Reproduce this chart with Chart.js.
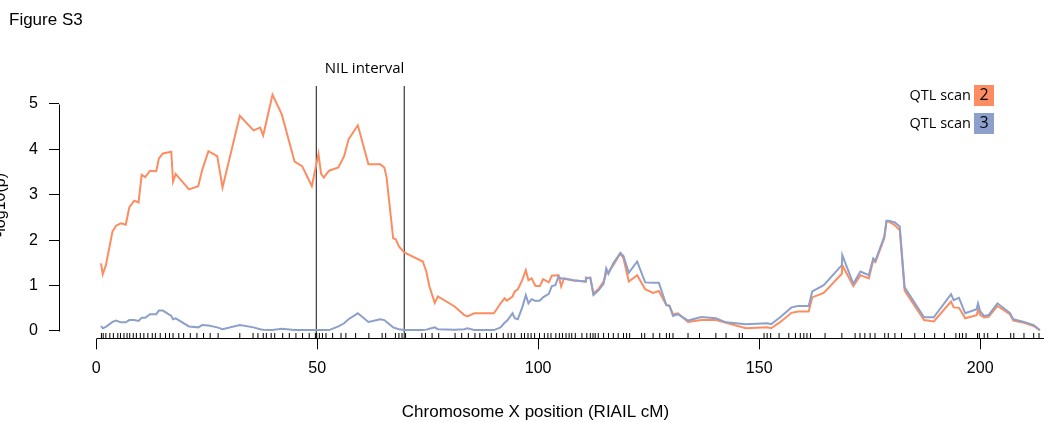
<!DOCTYPE html>
<html><head><meta charset="utf-8">
<script src="https://cdn.jsdelivr.net/npm/chart.js@4/dist/chart.umd.min.js"></script>
<style>html,body{margin:0;padding:0;background:#fff;overflow:hidden}#wrap{width:1049px;height:422px;position:relative}</style>
</head><body><div id="wrap"><canvas id="c" width="1049" height="422"></canvas></div>
<script>
// ---- data ----
const positions = [1.1,1.5,2.2,3.7,4.5,5.6,6.7,7.5,8.6,9.6,10.3,11.1,12.2,13.6,14.2,15.1,17.0,17.4,18.0,21.0,23.1,24.0,25.4,27.4,28.6,32.5,35.6,37.1,37.8,39.9,42.0,44.9,46.6,48.1,48.8,50.3,50.9,51.5,52.7,54.8,56.1,57.1,59.2,61.6,64.3,65.2,65.7,67.2,67.8,68.5,69.7,73.9,74.7,75.4,76.6,77.3,81.1,83.3,84.0,85.5,90.0,91.5,92.4,92.9,94.2,94.7,95.4,96.4,97.2,97.8,98.5,99.4,100.4,101.1,102.4,103.1,103.9,104.6,105.2,105.8,108.0,110.6,110.8,111.8,112.5,113.6,114.8,115.4,115.9,117.0,118.6,119.3,120.5,122.4,124.2,126.0,127.3,129.0,129.7,130.5,131.6,133.9,136.9,140.2,142.5,147.0,151.8,152.7,154.8,157.3,158.8,161.2,162.0,164.6,168.7,168.8,171.3,172.9,174.8,175.8,176.3,178.3,178.8,179.3,180.7,181.8,182.9,187.3,189.5,193.4,194.0,195.2,196.6,199.2,199.5,200.0,200.9,201.9,203.9,206.7,207.5,209.9,212.1,213.5];
const scan2 = [1.49,1.25,1.45,2.19,2.32,2.37,2.34,2.72,2.87,2.83,3.44,3.39,3.53,3.52,3.80,3.91,3.95,3.29,3.46,3.12,3.19,3.55,3.96,3.85,3.16,4.74,4.42,4.48,4.31,5.20,4.77,3.73,3.63,3.33,3.19,3.90,3.46,3.38,3.53,3.60,3.85,4.22,4.53,3.67,3.67,3.60,3.39,2.04,2.02,1.86,1.73,1.53,1.31,0.98,0.62,0.76,0.54,0.35,0.32,0.39,0.39,0.61,0.72,0.67,0.76,0.87,0.92,1.12,1.34,1.12,1.16,0.99,0.99,1.14,1.07,1.22,1.22,1.23,0.98,1.15,1.11,1.09,1.18,1.16,0.83,0.92,1.09,1.27,1.30,1.45,1.71,1.60,1.09,1.23,0.92,0.84,0.88,0.57,0.55,0.37,0.39,0.20,0.24,0.24,0.18,0.06,0.08,0.06,0.20,0.40,0.43,0.43,0.74,0.84,1.26,1.45,0.99,1.23,1.16,1.56,1.52,2.04,2.41,2.41,2.33,2.22,0.89,0.24,0.21,0.65,0.52,0.51,0.28,0.35,0.46,0.35,0.30,0.31,0.55,0.37,0.23,0.18,0.11,0.01];
const scan3 = [0.11,0.06,0.09,0.20,0.23,0.19,0.19,0.24,0.24,0.22,0.29,0.29,0.37,0.37,0.45,0.45,0.33,0.26,0.28,0.10,0.08,0.13,0.12,0.08,0.04,0.13,0.08,0.04,0.03,0.02,0.05,0.02,0.02,0.02,0.02,0.02,0.02,0.02,0.02,0.10,0.17,0.26,0.39,0.20,0.26,0.24,0.20,0.08,0.06,0.04,0.02,0.02,0.03,0.05,0.08,0.04,0.03,0.04,0.06,0.02,0.02,0.08,0.18,0.22,0.39,0.28,0.26,0.52,0.79,0.61,0.70,0.66,0.67,0.74,0.82,0.99,1.01,1.20,1.15,1.16,1.12,1.09,1.15,1.18,0.79,0.89,1.04,1.38,1.26,1.49,1.72,1.65,1.28,1.53,1.07,1.06,1.06,0.57,0.56,0.33,0.37,0.23,0.31,0.28,0.19,0.15,0.17,0.15,0.31,0.52,0.55,0.55,0.87,1.01,1.45,1.67,1.04,1.31,1.23,1.60,1.55,2.08,2.43,2.43,2.39,2.30,0.96,0.30,0.30,0.81,0.68,0.73,0.39,0.48,0.61,0.43,0.33,0.35,0.61,0.40,0.26,0.20,0.13,0.02];
const markers = [1.2,1.6,2.2,3.1,3.9,4.9,5.5,6.3,7.0,7.6,8.4,9.1,10.0,10.8,11.7,12.7,13.4,14.5,15.7,16.6,17.4,18.7,19.8,21.3,22.8,24.3,25.8,27.6,32.5,35.5,36.6,37.8,38.5,39.6,40.4,42.2,43.7,45.2,46.7,48.2,49.6,49.9,50.5,51.2,52.0,53.5,55.4,56.5,58.7,61.7,64.7,65.5,67.7,68.5,69.2,70.0,73.7,74.5,76.0,77.5,81.2,82.7,84.2,85.7,86.8,88.3,89.4,90.6,92.1,93.2,93.9,94.7,96.2,96.9,97.7,98.4,99.2,100.3,101.4,102.2,102.9,104.0,104.8,105.5,106.3,107.0,107.6,108.4,109.9,111.0,111.8,112.4,112.9,113.6,114.8,115.9,117.0,118.1,119.3,120.0,120.7,123.4,124.1,126.0,127.5,129.0,129.7,130.5,133.9,136.5,140.2,142.5,145.5,146.2,151.1,151.8,152.6,154.5,156.7,158.2,159.3,160.1,160.8,161.6,164.9,168.7,171.7,172.8,173.9,175.1,176.2,178.4,179.2,180.7,182.2,185.2,187.4,189.7,191.9,194.5,195.3,196.0,196.8,199.4,199.8,200.9,201.7,203.9,206.9,207.6,209.9,212.1,213.3];
const xTicks = [0,50,100,150,200];
const yTicks = [0,1,2,3,4,5];
const nilInterval = [49.8, 69.7];
const seriesLabels = ['QTL scan','QTL scan'];
const seriesTags = ['2','3'];
const colors = ['#FC8D62','#8DA0CB'];

// ---- layout constants ----
const X_MIN = -8.40, X_MAX = 214.43, Y_MIN = -0.183, Y_MAX = 5.396;
const RUG_Y = -0.11;
const SANS = '"Liberation Sans", Arial, sans-serif';
const HUM = '"Open Sans", "Noto Sans", sans-serif';

const toXY = (xs, ys) => xs.map((x,i)=>({x, y: ys[i]}));

const decor = {
  id:'decor',
  afterDraw(chart){
    const {ctx, chartArea, scales:{x, y}} = chart;
    ctx.save();
    ctx.strokeStyle = '#000'; ctx.lineWidth = 1;
    // R-style axis lines
    const ax = Math.round(chartArea.left) + 0.5;
    ctx.beginPath(); ctx.moveTo(ax, Math.round(y.getPixelForValue(yTicks[yTicks.length-1]))+0.5);
    ctx.lineTo(ax, Math.round(y.getPixelForValue(yTicks[0]))+0.5); ctx.stroke();
    const ay = Math.round(chartArea.bottom) - 0.5;
    ctx.beginPath(); ctx.moveTo(Math.round(x.getPixelForValue(xTicks[0]))+0.5, ay);
    ctx.lineTo(chartArea.right, ay); ctx.stroke();

    ctx.fillStyle = '#000';
    // title
    ctx.font = '17px ' + SANS; ctx.textAlign='left'; ctx.textBaseline='alphabetic';
    ctx.fillText('Figure S3', 9, 25);
    // x axis title
    ctx.textAlign='center';
    ctx.fillText('Chromosome X position (RIAIL cM)', 535.5, 417);
    // y axis title (partly cut off at the left edge)
    ctx.font = '16px ' + SANS;
    ctx.save(); ctx.translate(4.5, 205); ctx.rotate(-Math.PI/2);
    ctx.fillText('-log10(p)', 0, 0); ctx.restore();
    // NIL interval label
    ctx.font = '15px ' + HUM; ctx.textAlign='center';
    ctx.fillText('NIL interval', 364.5, 73);
    // legend
    const rows = [95.5, 123.5];
    rows.forEach((cy,i)=>{
      ctx.fillStyle = colors[i];
      ctx.fillRect(974, cy-10.5, 20, 21);
      ctx.fillStyle = '#000';
      ctx.font = '14.5px ' + HUM;
      ctx.textAlign='right'; ctx.textBaseline='middle';
      ctx.fillText(seriesLabels[i], 971, cy);
      ctx.textAlign='center';
      ctx.font = '16px ' + HUM;
      ctx.fillText(seriesTags[i], 984, cy);
    });
    ctx.restore();
  }
};

new Chart(document.getElementById('c'), {
  type:'scatter',
  data:{ datasets:[
    { label:'QTL scan 3', data: toXY(positions, scan3), showLine:true, borderColor:colors[1], borderWidth:2, pointRadius:0, tension:0, order:0 },
    { label:'QTL scan 2', data: toXY(positions, scan2), showLine:true, borderColor:colors[0], borderWidth:2, pointRadius:0, tension:0, order:1 },
    { label:'NIL left', data:[{x:nilInterval[0],y:Y_MIN},{x:nilInterval[0],y:Y_MAX}], showLine:true, borderColor:'#111', borderWidth:1, pointRadius:0, order:2 },
    { label:'NIL right', data:[{x:nilInterval[1],y:Y_MIN},{x:nilInterval[1],y:Y_MAX}], showLine:true, borderColor:'#111', borderWidth:1, pointRadius:0, order:2 },
    { label:'markers', data: markers.map(m=>({x:m, y:RUG_Y})), pointStyle:'line', rotation:90, radius:3, pointRadius:3, borderColor:'#000', borderWidth:1, backgroundColor:'#000', order:3 }
  ]},
  options:{
    responsive:false, animation:false, devicePixelRatio:1,
    layout:{ padding:{ top:86, right:0, bottom:0, left:0 } },
    plugins:{ legend:{display:false}, title:{display:false}, tooltip:{enabled:false} },
    events:[],
    scales:{
      x:{ type:'linear', min:X_MIN, max:X_MAX,
        afterBuildTicks:(s)=>{ s.ticks = xTicks.map(v=>({value:v})); },
        afterFit:(s)=>{ s.height = 422 - 339.3; },
        border:{display:false},
        grid:{ drawOnChartArea:false, drawTicks:true, tickLength:10, color:'#000', lineWidth:1 },
        ticks:{ font:{family:SANS, size:16}, color:'#000', padding:10, maxRotation:0, autoSkip:false }
      },
      y:{ type:'linear', min:Y_MIN, max:Y_MAX,
        afterBuildTicks:(s)=>{ s.ticks = yTicks.map(v=>({value:v})); },
        afterFit:(s)=>{ s.width = 59; },
        border:{display:false},
        grid:{ drawOnChartArea:false, drawTicks:true, tickLength:10, color:'#000', lineWidth:1 },
        ticks:{ font:{family:SANS, size:16}, color:'#000', padding:11, autoSkip:false }
      }
    }
  },
  plugins:[decor]
});
</script></body></html>
